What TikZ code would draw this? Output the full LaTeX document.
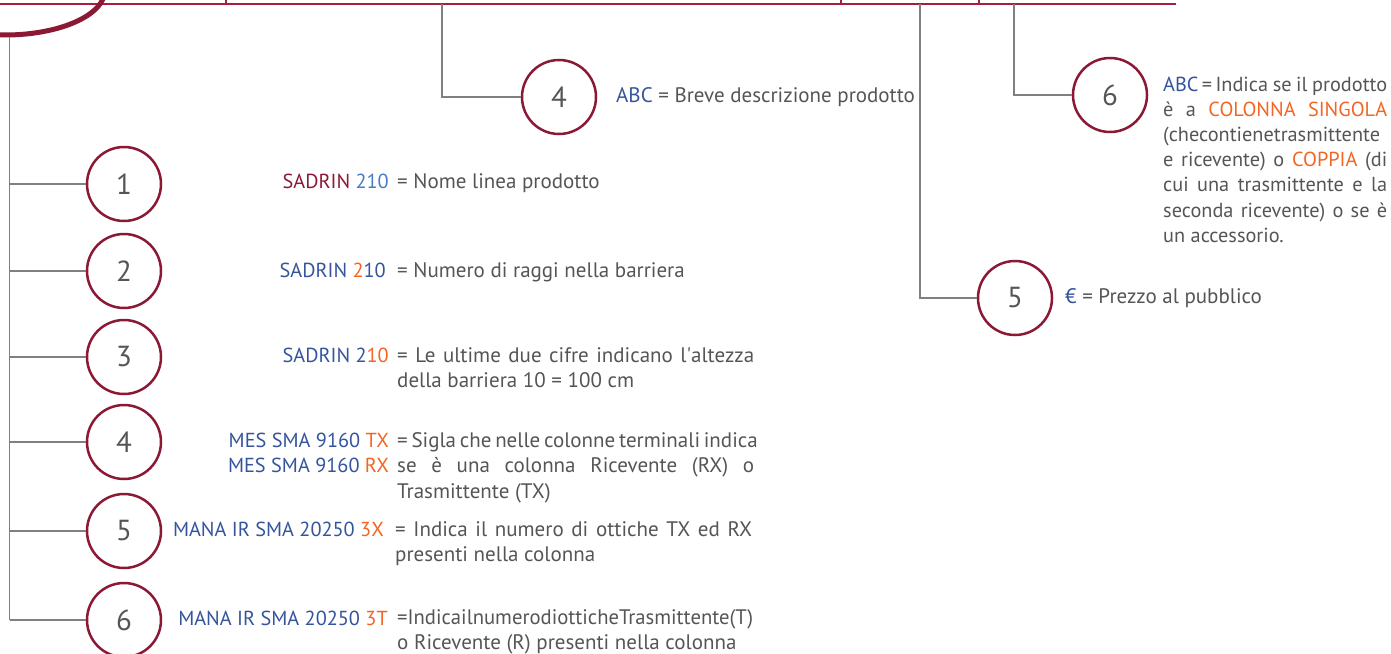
\documentclass[tikz,border=0pt]{standalone}
\usepackage{fontspec}
\setmainfont{PT Sans}
\usetikzlibrary{positioning}
\definecolor{ring}{RGB}{139,24,52}
\definecolor{topline}{RGB}{165,32,62}
\definecolor{codeblue}{RGB}{52,84,156}
\definecolor{lightblue}{RGB}{72,122,196}
\definecolor{codeorange}{RGB}{242,101,34}
\definecolor{txtgray}{RGB}{85,85,85}
\definecolor{linegray}{RGB}{128,128,128}
\newcommand{\fl}[1]{\makebox[357pt][s]{#1}}
\newcommand{\fr}[1]{\makebox[224pt][s]{#1}}
\newcommand{\cb}[1]{\textcolor{codeblue}{#1}}
\newcommand{\co}[1]{\textcolor{codeorange}{#1}}
% first line on the baseline
\newcommand{\leftlines}[1]{\vtop{\halign{##\hfil\cr#1\crcr}}}
\newcommand{\rightlines}[1]{\vtop{\halign{\hfil##\cr#1\crcr}}}
\begin{document}
\begin{tikzpicture}[x=1pt,y=-1pt,
  font=\fontsize{20.3}{25.5}\selectfont,
  num/.style={circle,draw=ring,line width=2.5pt,minimum size=74pt,inner sep=0pt,
    text=txtgray,font=\fontsize{29}{29}\selectfont},
  lead/.style={draw=linegray,line width=1.4pt},
  code/.style={anchor=base east,inner sep=0pt},
  desc/.style={anchor=base west,inner sep=0pt,text=txtgray,font=\fontsize{21}{25.5}\selectfont}]
\useasboundingbox (0,0) rectangle (1391,653);
% top bar
\draw[topline,line width=2pt] (0,4)--(1176,4);
\foreach \t in {226,841,979}
  \draw[topline,line width=1.6pt] (\t,0)--(\t,4);
\draw[ring,line width=5pt] (5,-10) ellipse (100 and 45);
% left tree
\coordinate (root) at (9.5,37);
\coordinate (foot) at (9.5,620);
\draw[lead] (root)--(foot);
\foreach \i/\y in {1/184,2/271,3/357,4/442,5/531,6/620}{
  \node[num] (c\i) at (124,\y) {\i};
  \draw[lead] (9.5,\y)--(c\i.west);
}
% codes and meanings
\node[code] (k1) at (389,188) {\textcolor{ring}{SADRIN} \textcolor{lightblue}{210}};
\node[desc] (d1) at (397,188) {= Nome linea prodotto};
\node[code] (k2) at (386,277) {\cb{SADRIN} \co{2}\cb{10}};
\node[desc] (d2) at (397,277) {= Numero di raggi nella barriera};
\node[code] (k3) at (389,362) {\cb{SADRIN 2}\co{10}};
\node[desc] (d3) at (397,362) {\leftlines{\fl{= Le ultime due cifre indicano l\textquotesingle altezza}\cr
  della barriera 10 = 100 cm}};
\node[code] (k4) at (389,447) {\rightlines{\cb{MES SMA 9160} \co{TX}\cr\cb{MES SMA 9160} \co{RX}}};
\node[desc] (d4) at (397,447) {\leftlines{\fl{= Sigla che nelle colonne terminali indica}\cr
  \fl{se è una colonna Ricevente (RX) o}\cr Trasmittente (TX)}};
\node[code] (k5) at (384,536) {\cb{MANA IR SMA 20250} \co{3X}};
\node[desc] (d5) at (395,536) {\leftlines{\fl{= Indica il numero di ottiche TX ed RX}\cr
  presenti nella colonna}};
\node[code] (k6) at (388,625) {\cb{MANA IR SMA 20250} \co{3T}};
\node[desc] (d6) at (397,624) {\leftlines{\resizebox{356pt}{\height}{=IndicailnumerodiotticheTrasmittente(T)}\cr
  o Ricevente (R) presenti nella colonna}};
% top branches
\node[num] (t4) at (559,97) {4};
\coordinate (b4) at (442,4);
\draw[lead] (b4)|-(t4.west);
\node[desc] (e4) at (616,102) {\cb{ABC} = Breve descrizione prodotto};
\node[num] (t5) at (1015,298) {5};
\coordinate (b5) at (920,4);
\draw[lead] (b5)|-(t5.west);
\node[desc] (e5) at (1065,303) {\cb{€} = Prezzo al pubblico};
\node[num] (t6) at (1110,95) {6};
\coordinate (b6) at (1014,4);
\draw[lead] (b6)|-(t6.west);
\node[desc,font=\fontsize{20.3}{25.2}\selectfont] (e6) at (1163,91)
  {\leftlines{\fr{\cb{ABC}\,=\,Indica se il prodotto}\cr
   \fr{è a \co{COLONNA SINGOLA}}\cr
   \fr{(checontienetrasmittente}\cr
   \fr{e ricevente) o \co{COPPIA} (di}\cr
   \fr{cui una trasmittente e la}\cr
   \fr{seconda ricevente) o se è}\cr
   un accessorio.}};
\end{tikzpicture}
\end{document}
